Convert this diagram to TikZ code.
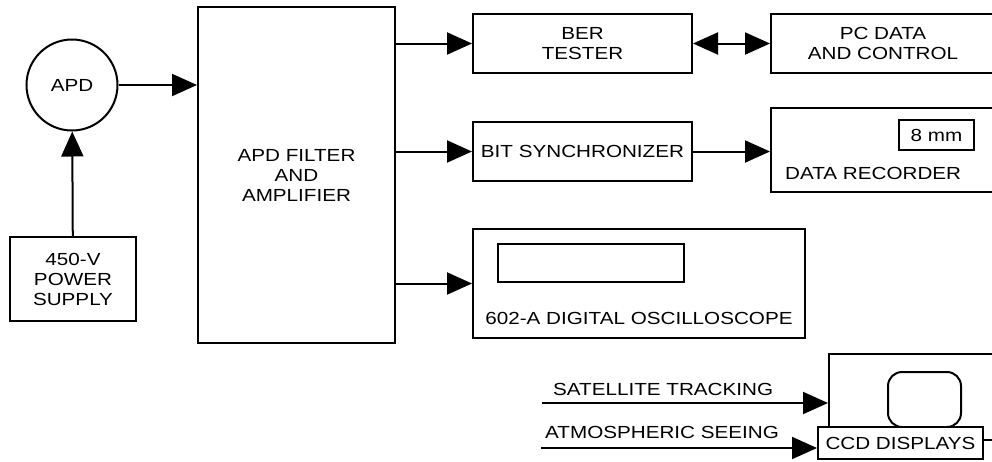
\documentclass[tikz,border=0pt]{standalone}
\usepackage{fontspec}
\setmainfont{Liberation Sans}[FakeStretch=1.18]
\usetikzlibrary{arrows.meta,positioning}
\tikzset{
  blk/.style={draw, line width=2pt, inner sep=0pt, align=center, font=\fontsize{17.5}{20}\selectfont},
  txt/.style={inner sep=0pt, font=\fontsize{17.5}{20}\selectfont},
  arr/.style={line width=2pt, -{Triangle[length=25pt,width=22pt]}},
  darr/.style={line width=2pt, {Triangle[length=25pt,width=22pt]}-{Triangle[length=25pt,width=22pt]}},
}
\begin{document}
\begin{tikzpicture}[x=1pt,y=-1pt]
  \useasboundingbox (0,0) rectangle (992,461);
  \clip (0,0) rectangle (992,461);
  % detector side
  \node[blk, circle, minimum size=91pt] (apd) at (72,85) {APD};
  \node[blk, minimum width=126pt, minimum height=84pt] (power) at (73,279) {450-V\\POWER\\SUPPLY};
  \node[blk, minimum width=197pt, minimum height=336pt] (filter) at (296.5,175) {APD FILTER\\AND\\AMPLIFIER};
  % instruments
  \node[blk, minimum width=219pt, minimum height=59pt] (ber) at (582.5,43.5) {BER\\TESTER};
  \node[blk, minimum width=224pt, minimum height=59pt] (pc) at (883,43.5) {PC DATA\\AND CONTROL};
  \node[blk, minimum width=219pt, minimum height=59pt] (sync) at (582.5,151.5) {BIT SYNCHRONIZER};
  \node[blk, minimum width=224pt, minimum height=84pt] (rec) at (883,150) {};
  \node[blk, minimum width=75pt, minimum height=30pt] (tape) at (936.5,135) {8 mm};
  \node[txt, anchor=west] (reclbl) at (785,173) {DATA RECORDER};
  \node[blk, minimum width=332pt, minimum height=109pt] (scope) at (639,283.5) {};
  \node[blk, minimum width=186pt, minimum height=38pt] (screen) at (591,263) {};
  \node[txt] (scopelbl) at (639,318) {602-A DIGITAL OSCILLOSCOPE};
  % ccd displays
  \node[blk, minimum width=168pt, minimum height=86pt] (ccd) at (913,397) {};
  \node[blk, rounded corners=14pt, minimum width=73pt, minimum height=55pt] (monitor) at (924.5,399.5) {};
  \node[blk, fill=white, minimum width=165pt, minimum height=32pt] (ccdlbl) at (900.5,443) {CCD DISPLAYS};
  \coordinate (sat) at (542,403);
  \coordinate (atm) at (541,448);
  \node[txt, anchor=base west] (satlbl) at (553,395) {SATELLITE TRACKING};
  \node[txt, anchor=base west] (atmlbl) at (545,438) {ATMOSPHERIC SEEING};
  % connectors
  \draw[arr] (power) -- (apd);
  \draw[arr] (apd) -- (filter.west |- apd);
  \draw[arr] (filter.east |- ber) -- (ber);
  \draw[arr] (filter.east |- sync) -- (sync);
  \draw[arr] (filter.east |- scope) -- (scope);
  \draw[darr] (ber) -- (pc.west |- ber);
  \draw[arr] (sync) -- (rec.west |- sync);
  \draw[arr] (sat) -- (ccd.west |- sat);
  \draw[arr] (atm) -- (ccdlbl.west |- atm);
\end{tikzpicture}
\end{document}
